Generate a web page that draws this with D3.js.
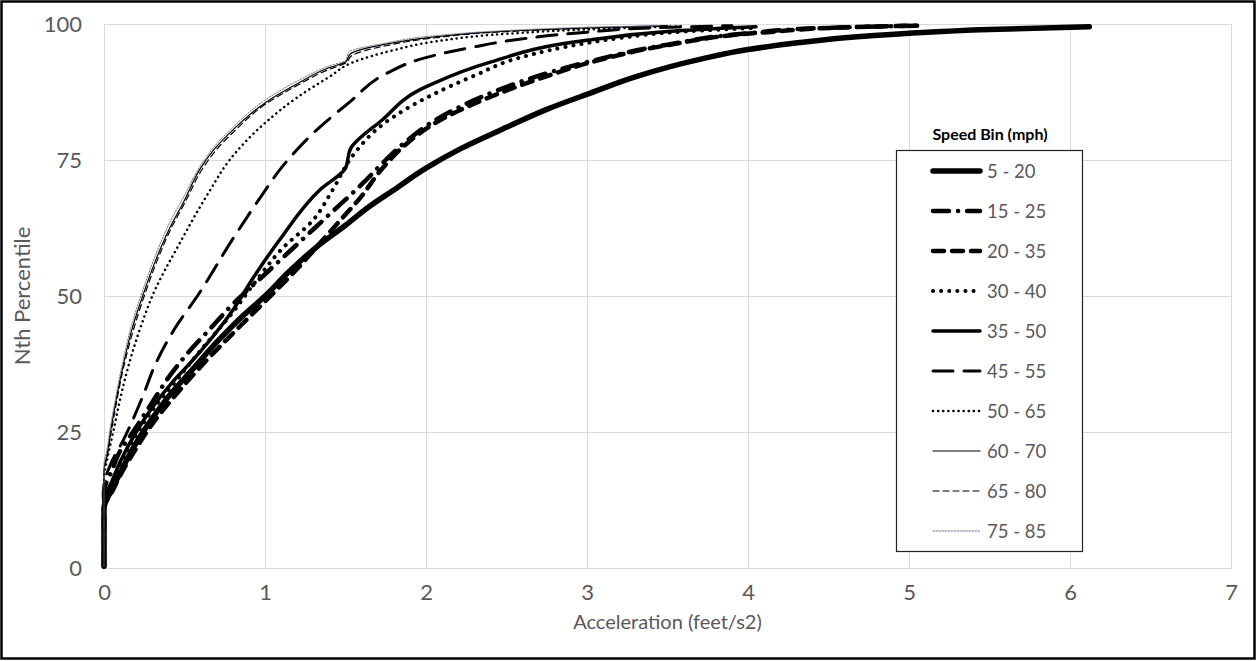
<!doctype html>
<html>
<head>
    <style>
        body { margin: 0; background: #fff; }
        text { font-family: Lato, "Open Sans", sans-serif; fill: #595959; }
        .grid line, .grid path { stroke: #d9d9d9; stroke-width: 1; }
        .legend-title { font-weight: bold; fill: #000; }
    </style>
    <script src="https://d3js.org/d3.v7.min.js"></script>
</head>
<body>
<svg id="svg" width="1257" height="661"></svg>
<script>
// speed bins (legend labels)
var speedBins = ["5 - 20", "15 - 25", "20 - 35", "30 - 40", "35 - 50",
                 "45 - 55", "50 - 65", "60 - 70", "65 - 80", "75 - 85"];

// [acceleration (feet/s2), percentile]
var bin5to20 = [[0,0.3],[0,11],[0.05,14.5],[0.1,17.5],[0.2,23],[0.3,27.5],[0.4,31.5],[0.55,36.5],[0.7,41.5],[0.85,46],[1.0,50],[1.15,54.5],[1.32,59],[1.5,63],[1.65,66.5],[1.8,69.5],[2.0,73.5],[2.21,77],[2.5,81],[2.75,84.3],[3.02,87.3],[3.3,90.3],[3.7,93.5],[4.0,95.3],[4.32,96.6],[4.7,97.7],[5.0,98.3],[5.5,99],[6.12,99.5]];
var bin15to25 = [[0,0.3],[0,14],[0.05,18],[0.1,21.5],[0.18,25],[0.29,30],[0.4,35],[0.52,39.5],[0.66,44],[0.8,48.5],[1.0,54],[1.2,59.5],[1.4,65],[1.6,70.5],[1.75,75],[1.88,78.5],[2.04,82],[2.3,86],[2.6,89.5],[3.0,93],[3.5,96.2],[4.0,98.3],[4.5,99.3],[5.05,99.7]];
var bin20to35 = [[0,0.3],[0,11],[0.05,14],[0.1,17],[0.2,22],[0.3,26.5],[0.45,32],[0.6,37],[0.84,44.3],[1.0,49],[1.2,55],[1.35,60],[1.47,64],[1.59,68],[1.73,73.5],[1.88,78],[2.04,81.5],[2.35,86],[2.71,90],[3.08,93.4],[3.5,96.1],[4.12,98.5],[4.63,99.4],[5.05,99.7]];
var bin30to40 = [[0,0.3],[0,12],[0.05,15.5],[0.1,19],[0.2,24.5],[0.3,29],[0.45,34.5],[0.6,40],[0.8,47],[0.95,53],[1.1,58.5],[1.3,64],[1.42,69.5],[1.55,76],[1.73,81.5],[2.04,87],[2.3,90.5],[2.58,93.8],[3.0,96.5],[3.2,97.4],[3.6,98.6],[4.05,99.3]];
var bin35to50 = [[0,0.3],[0,12],[0.05,16],[0.1,19.5],[0.2,25],[0.3,29.5],[0.42,34],[0.53,37.5],[0.8,47.4],[0.93,53.5],[1.09,60.3],[1.34,69.5],[1.5,73.5],[1.53,77],[1.73,82.4],[1.96,87.9],[2.04,89],[2.38,92.8],[3.0,97],[3.5,98.6],[3.83,99.2],[4.05,99.5]];
var bin45to55 = [[0,0.3],[0,15],[0.04,19],[0.12,23.5],[0.24,31.5],[0.32,37.5],[0.45,44.5],[0.58,50],[0.8,60.5],[0.98,68.5],[1.1,73.5],[1.32,80.5],[1.52,85.5],[1.76,91],[1.96,93.5],[2.3,95.8],[2.58,97.2],[3.0,98.5],[3.41,99.3],[3.9,99.7]];
var bin50to65 = [[0,0.3],[0,16.5],[0.02,20],[0.057,25],[0.1,31],[0.16,38],[0.23,44.5],[0.3,50],[0.47,59.7],[0.66,69.5],[0.78,75],[1.0,81.8],[1.2,86.5],[1.4,90.3],[1.55,93],[1.8,95.2],[2.04,96.7],[2.5,98.2],[3.0,99],[3.6,99.6]];
var bin60to70 = [[0,0.3],[0,18],[0.02,21],[0.04,25],[0.07,30],[0.11,36],[0.17,43.5],[0.24,50],[0.32,56.5],[0.4,62],[0.5,67.6],[0.6,73.5],[0.7,77.5],[0.8,80.5],[1.0,85.5],[1.2,89],[1.4,92],[1.5,93],[1.53,94.5],[1.75,96.3],[2.04,97.6],[2.5,98.7],[3.0,99.3],[3.5,99.7]];
var bin65to80 = [[0,0.3],[0,17.5],[0.02,20.5],[0.045,25],[0.075,30],[0.115,36],[0.18,43.5],[0.25,50],[0.33,56.5],[0.41,62],[0.51,67.6],[0.61,73.3],[0.71,77.3],[0.81,80.3],[1.0,85.2],[1.2,88.7],[1.4,91.7],[1.5,92.8],[1.54,94.2],[1.75,96],[2.04,97.4],[2.5,98.6],[3.0,99.2],[3.5,99.6]];
var bin75to85 = [[0,0.3],[0,19],[0.02,22],[0.04,26],[0.07,31],[0.11,37],[0.17,44.5],[0.24,51],[0.32,57.5],[0.4,63],[0.5,68.5],[0.6,74],[0.7,78],[0.8,81],[1.0,86],[1.2,89.5],[1.4,92.3],[1.5,93.3],[1.52,94.8],[1.75,96.5],[2.04,97.8],[2.5,98.8],[3.0,99.4],[3.45,99.7]];

var binSeries = [bin5to20, bin15to25, bin20to35, bin30to40, bin35to50,
                 bin45to55, bin50to65, bin60to70, bin65to80, bin75to85];

var xTicks = [0, 1, 2, 3, 4, 5, 6, 7];
var yTicks = [0, 25, 50, 75, 100];

// line look for each bin, same order as speedBins
var lineStyles = [
    {w: 5.5, dash: null, color: "#000"},
    {w: 4.5, dash: "16 9 0.1 9", color: "#000"},
    {w: 4.5, dash: "11 8", color: "#000"},
    {w: 4, dash: "0.1 8", color: "#000"},
    {w: 3.5, dash: null, color: "#000"},
    {w: 3, dash: "20 11", color: "#000"},
    {w: 2.5, dash: "0.1 5", color: "#000"},
    {w: 1.2, dash: null, color: "#000"},
    {w: 1.2, dash: "6 4", color: "#000"},
    {w: 1, dash: "1.5 1.5", color: "#7a7090"}
];

var svg = d3.select("#svg");
var plotLeft = 104, plotRight = 1231, plotTop = 24, plotBottom = 568;

svg.append("rect").attr("x", 1.5).attr("y", 1.5).attr("width", 1253).attr("height", 657)
   .attr("fill", "#fff").attr("stroke", "#000").attr("stroke-width", 2.5);

var xScale = d3.scaleLinear().domain([0, 7]).range([plotLeft, plotRight]);
var yScale = d3.scaleLinear().domain([0, 100]).range([plotBottom, plotTop]);

var gx = svg.append("g").attr("class", "grid")
    .attr("transform", "translate(0," + plotBottom + ")")
    .call(d3.axisBottom(xScale).tickValues(xTicks).tickFormat(d3.format("d"))
        .tickSize(-(plotBottom - plotTop)).tickPadding(16).tickSizeOuter(0));
gx.selectAll("text").style("font-size", "22px");
gx.select(".domain").attr("stroke", "#d9d9d9");

var gy = svg.append("g").attr("class", "grid")
    .attr("transform", "translate(" + plotLeft + ",0)")
    .call(d3.axisLeft(yScale).tickValues(yTicks).tickFormat(d3.format("d"))
        .tickSize(-(plotRight - plotLeft)).tickPadding(22).tickSizeOuter(0));
gy.selectAll("text").style("font-size", "22px");
gy.select(".domain").remove();

svg.append("text").attr("x", (plotLeft + plotRight) / 2).attr("y", 629)
   .attr("text-anchor", "middle").style("font-size", "20px")
   .text("Acceleration (feet/s2)");

svg.append("text").attr("transform", "translate(30," + (plotTop + plotBottom) / 2 + ") rotate(-90)")
   .attr("text-anchor", "middle").style("font-size", "22px")
   .text("Nth Percentile");

var line = d3.line()
    .x(function(d) { return xScale(d[0]); })
    .y(function(d) { return yScale(d[1]); })
    .curve(d3.curveMonotoneY);

// heaviest first so the thin ones sit on top
binSeries.forEach(function(s, i) {
    var st = lineStyles[i];
    svg.append("path").datum(s)
       .attr("d", line)
       .attr("fill", "none")
       .attr("stroke", st.color)
       .attr("stroke-width", st.w)
       .attr("stroke-linecap", "round")
       .attr("stroke-linejoin", "round")
       .attr("stroke-dasharray", st.dash);
});

// legend
svg.append("text").attr("class", "legend-title").attr("x", 990).attr("y", 140)
   .attr("text-anchor", "middle").style("font-size", "16px").text("Speed Bin (mph)");

var lg = svg.append("g");
lg.append("rect").attr("x", 896.5).attr("y", 150.5).attr("width", 186).attr("height", 401)
  .attr("fill", "#fff").attr("stroke", "#222").attr("stroke-width", 1.2);

var rowY = d3.scalePoint().domain(speedBins).range([171, 531]);

speedBins.forEach(function(b, i) {
    var st = lineStyles[i];
    lg.append("line").attr("x1", 933).attr("x2", 980)
      .attr("y1", rowY(b)).attr("y2", rowY(b))
      .attr("stroke", st.color).attr("stroke-width", st.w)
      .attr("stroke-linecap", "round")
      .attr("stroke-dasharray", st.dash);
    lg.append("text").attr("x", 987).attr("y", rowY(b) + 6.5)
      .style("font-size", "18.5px").text(b);
});
</script>
</body>
</html>
